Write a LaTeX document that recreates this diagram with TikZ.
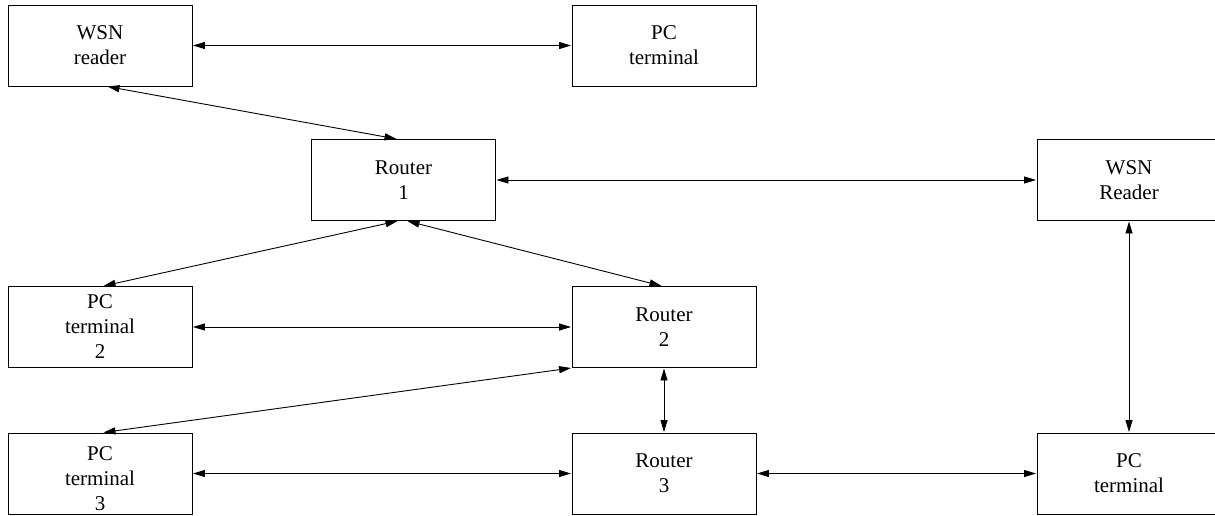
\documentclass[tikz,border=0pt]{standalone}
\usepackage{fontspec}
\setmainfont{Liberation Serif}
\usetikzlibrary{arrows.meta}
\tikzset{
  txt/.style={inner sep=0pt, align=center, font=\fontsize{21}{25}\selectfont},
  box/.style={txt, draw, line width=0.9pt, minimum width=184pt, minimum height=81pt},
  link/.style={line width=0.9pt, {Triangle[length=12pt,width=7pt]}-{Triangle[length=12pt,width=7pt]}, shorten <=0.5pt, shorten >=0.5pt}
}
\begin{document}
\begin{tikzpicture}[x=1pt,y=-1pt]
\useasboundingbox (0,0) rectangle (1215,515);
\clip (0,0) rectangle (1215,515);
\node[box] (wsn) at (100,45.5) {WSN\\reader};
\node[box] (pct) at (664,45.5) {PC\\terminal};
\node[box] (r1) at (403.5,180) {Router\\1};
\node[box] (wsnR) at (1129,180) {WSN\\Reader};
\node[box] (pc2) at (100,327) {PC\\terminal\\2};
\node[box] (r2) at (664,327) {Router\\2};
\node[box] (pc3) at (100,473.5) {};
\node[txt] (pc3text) at ([yshift=-5pt]pc3.center) {PC\\terminal\\3};
\node[box] (r3) at (664,473.5) {Router\\3};
\node[box] (pcR) at (1129,473.5) {PC\\terminal};

\draw[link] (wsn.east) -- (pct.west);
\draw[link] ([xshift=7pt]wsn.south) -- ([xshift=-6.5pt]r1.north);
\draw[link] (r1.east) -- (wsnR.west);
\draw[link] ([xshift=-5.5pt]r1.south) -- ([xshift=3pt]pc2.north);
\draw[link] ([xshift=3.5pt]r1.south) -- ([xshift=-2pt]r2.north);
\draw[link] (pc2.east) -- (r2.west);
\draw[link] (r2.south west) -- ([xshift=3pt]pc3.north);
\draw[link] (r2.south) -- (r3.north);
\draw[link] (pc3.east) -- (r3.west);
\draw[link] (r3.east) -- (pcR.west);
\draw[link] (wsnR.south) -- (pcR.north);
\end{tikzpicture}
\end{document}
